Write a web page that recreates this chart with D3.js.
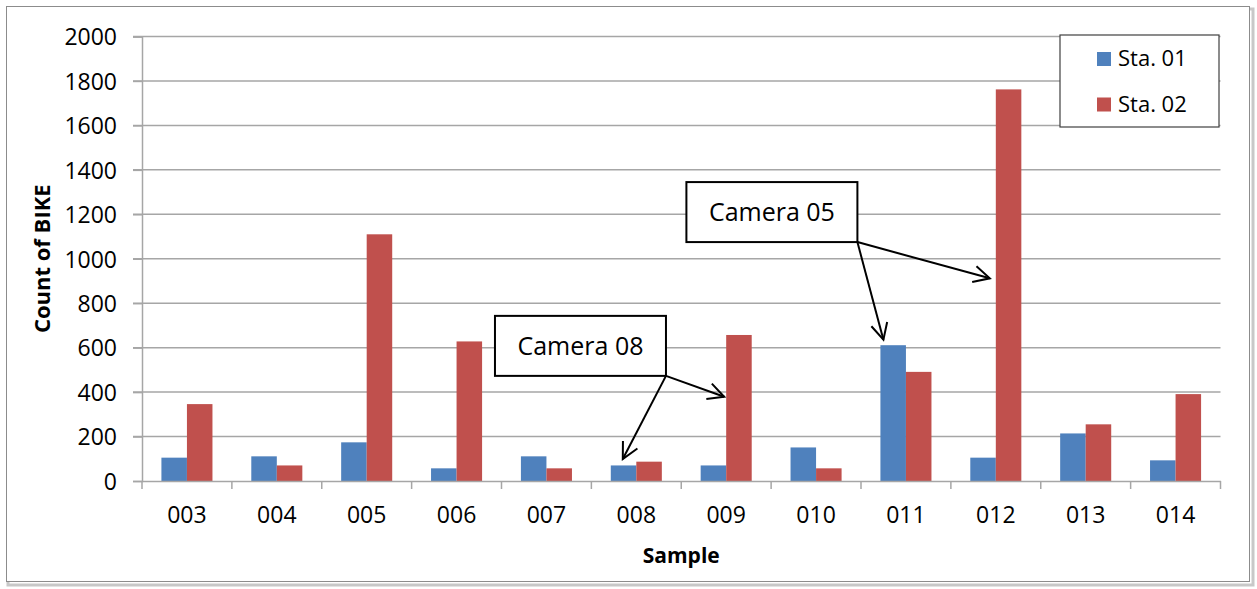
<!DOCTYPE html>
<html>
<head>
<meta charset="utf-8">
<script src="https://cdn.jsdelivr.net/npm/d3@7/dist/d3.min.js"></script>
<style>
  html, body { margin: 0; padding: 0; background: #fff; }
  svg { display: block; }
  text { font-family: "Open Sans", "Liberation Sans", sans-serif; fill: #000; }
</style>
</head>
<body>
<svg id="chart" width="1257" height="589"></svg>
<script>
const categories = ["003","004","005","006","007","008","009","010","011","012","013","014"];
const seriesNames = ["Sta. 01", "Sta. 02"];
const sta01 = [105, 111, 174, 57, 111, 70, 70, 151, 611, 105, 214, 93];
const sta02 = [346, 70, 1110, 628, 57, 87, 657, 57, 491, 1762, 255, 391];
const yTicks = [0, 200, 400, 600, 800, 1000, 1200, 1400, 1600, 1800, 2000];
const colors = ["#4F81BD", "#C0504D"];

// annotation callouts: box anchored by bottom-right corner (category + fraction of band, value)
const callouts = [
  { label: "Camera 05", cat: "010", frac: 0.96, value: 1075,
    targets: [ { cat: "011", series: "Sta. 01", dx: 3, value: 636 },
               { cat: "012", series: "Sta. 02", dx: -6, value: 912 } ] },
  { label: "Camera 08", cat: "008", frac: 0.83, value: 473,
    targets: [ { cat: "008", series: "Sta. 01", dx: 12, value: 99 },
               { cat: "009", series: "Sta. 02", dx: -2, value: 379 } ] }
];

const svg = d3.select("#chart");
const W = 1257, H = 589;
const plot = { left: 142, right: 1220.5, top: 36.5, bottom: 481 };

// outer frame
svg.append("rect").attr("x", 8).attr("y", 9).attr("width", W - 12).attr("height", H - 13)
  .attr("fill", "none").attr("stroke", "#c8c8c8").attr("stroke-width", 3);
svg.append("rect").attr("x", 6.5).attr("y", 6.5).attr("width", W - 14).attr("height", H - 14)
  .attr("fill", "#fff").attr("stroke", "#8c8c8c").attr("stroke-width", 1);

const x = d3.scaleBand().domain(categories).range([plot.left, plot.right]).paddingInner(0).paddingOuter(0);
const bw = x.bandwidth();
const gap = bw * 0.216;
const x1 = d3.scaleBand().domain(seriesNames).range([gap, bw - gap]).padding(0);
const y = d3.scaleLinear().domain([0, 2000]).range([plot.bottom, plot.top]);

// gridlines
svg.append("g").selectAll("line").data(yTicks.filter(d => d > 0)).join("line")
  .attr("x1", plot.left - 9).attr("x2", plot.right)
  .attr("y1", d => y(d)).attr("y2", d => y(d))
  .attr("stroke", "#a6a6a6").attr("stroke-width", 1.5);

// y axis
const yAxis = svg.append("g").attr("transform", `translate(${plot.left},0)`)
  .call(d3.axisLeft(y).tickValues(yTicks).tickSize(9).tickPadding(16).tickFormat(d3.format("d")));
yAxis.select(".domain").attr("stroke", "#a6a6a6").attr("stroke-width", 1.5);
yAxis.selectAll(".tick line").attr("stroke", "#a6a6a6").attr("stroke-width", 1.5);
yAxis.selectAll("text").style("font-size", "23px").style("font-family", "'Open Sans', sans-serif").attr("fill", "#000").attr("dy", "0.36em");

// bars
const data = categories.map((c, i) => ({ cat: c, vals: [sta01[i], sta02[i]] }));
const groups = svg.append("g").selectAll("g").data(data).join("g")
  .attr("transform", d => `translate(${x(d.cat)},0)`);
groups.selectAll("rect").data(d => d.vals.map((v, j) => ({ s: seriesNames[j], v, j }))).join("rect")
  .attr("x", d => x1(d.s)).attr("width", x1.bandwidth())
  .attr("y", d => y(d.v)).attr("height", d => y(0) - y(d.v))
  .attr("fill", d => colors[d.j]);

// x axis
const xAxis = svg.append("g").attr("transform", `translate(0,${plot.bottom})`)
  .call(d3.axisBottom(x).tickSize(0).tickPadding(26));
xAxis.select(".domain").attr("stroke", "#a6a6a6").attr("stroke-width", 1.5);
xAxis.selectAll("text").style("font-size", "23px").style("font-family", "'Open Sans', sans-serif").attr("fill", "#000");
// category boundary ticks
const bounds = categories.map(c => x(c)).concat([plot.right]);
svg.append("g").selectAll("line").data(bounds).join("line")
  .attr("x1", d => d).attr("x2", d => d)
  .attr("y1", plot.bottom).attr("y2", plot.bottom + 8)
  .attr("stroke", "#a6a6a6").attr("stroke-width", 1.5);

// axis titles
svg.append("text").attr("x", (plot.left + plot.right) / 2).attr("y", 563)
  .attr("text-anchor", "middle").style("font-size", "21px").style("font-weight", "bold").text("Sample");
svg.append("text").attr("transform", `translate(50,${(plot.top + plot.bottom) / 2}) rotate(-90)`)
  .attr("text-anchor", "middle").style("font-size", "22px").style("font-weight", "bold").text("Count of BIKE");

// legend
const lg = svg.append("g");
lg.append("rect").attr("x", 1060).attr("y", 35).attr("width", 159).attr("height", 92)
  .attr("fill", "#fff").attr("stroke", "#404040").attr("stroke-width", 1.2);
seriesNames.forEach((s, i) => {
  const yy = 52 + i * 45.5;
  lg.append("rect").attr("x", 1097).attr("y", yy).attr("width", 14).attr("height", 14).attr("fill", colors[i]);
  lg.append("text").attr("x", 1118).attr("y", yy + 14).style("font-size", "22px").text(s);
});

// callouts
const boxW = 171, boxH = 60;
function arrow(g, x0, y0, x2, y2) {
  g.append("line").attr("x1", x0).attr("y1", y0).attr("x2", x2).attr("y2", y2)
    .attr("stroke", "#000").attr("stroke-width", 2);
  const ang = Math.atan2(y2 - y0, x2 - x0);
  const L = 18, a = 0.47;
  const p1 = [x2 - L * Math.cos(ang - a), y2 - L * Math.sin(ang - a)];
  const p2 = [x2 - L * Math.cos(ang + a), y2 - L * Math.sin(ang + a)];
  g.append("path").attr("d", `M${p1[0]},${p1[1]} L${x2},${y2} L${p2[0]},${p2[1]}`)
    .attr("fill", "none").attr("stroke", "#000").attr("stroke-width", 2);
}
callouts.forEach(c => {
  const g = svg.append("g");
  const bx = x(c.cat) + bw * c.frac, by = y(c.value);
  c.targets.forEach(t => {
    const tx = x(t.cat) + x1(t.series) + t.dx, ty = y(t.value);
    arrow(g, bx, by, tx, ty);
  });
  g.append("rect").attr("x", bx - boxW).attr("y", by - boxH).attr("width", boxW).attr("height", boxH)
    .attr("fill", "#fff").attr("stroke", "#000").attr("stroke-width", 2);
  g.append("text").attr("x", bx - boxW / 2).attr("y", by - boxH / 2).attr("dy", "0.36em")
    .attr("text-anchor", "middle").style("font-size", "25px").text(c.label);
});
</script>
</body>
</html>
